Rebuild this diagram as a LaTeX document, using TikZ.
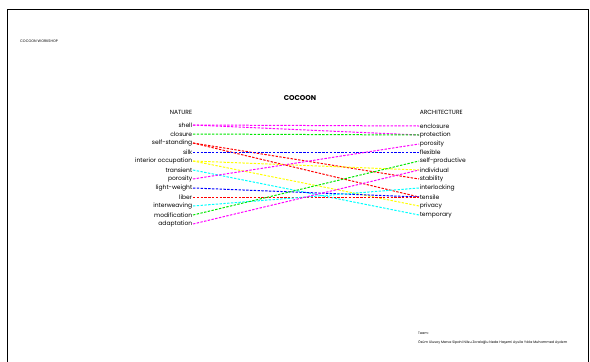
\documentclass[tikz,border=0pt]{standalone}
\usepackage{fontspec}
\setmainfont{Poppins}
\usepackage{tikz}
\usetikzlibrary{calc}

\tikzset{
  word/.style={inner sep=0.6pt, font=\fontsize{6}{6}\selectfont},
  lword/.style={word, anchor=east},
  rword/.style={word, anchor=west},
  link/.style={line width=1pt, dash pattern=on 2.4pt off 1.4pt}
}
\definecolor{lnmag}{RGB}{255,0,255}
\definecolor{lngreen}{RGB}{0,230,0}
\definecolor{lnred}{RGB}{255,0,0}
\definecolor{lnblue}{RGB}{0,0,255}
\definecolor{lnyellow}{RGB}{255,255,0}
\definecolor{lncyan}{RGB}{0,255,255}

\begin{document}
\begin{tikzpicture}[x=1pt,y=-1pt]
            \useasboundingbox (0,0) rectangle (590,362);
            \draw[line width=0.8pt] (7,362) -- (7,9) -- (588,9) -- (588,362);

            \node[anchor=west, inner sep=0pt, font=\fontsize{3.6}{4}\selectfont] (workshop) at (20,41) {COCOON WORKSHOP};
            \node[inner sep=0pt, font=\fontsize{7}{7}\selectfont\bfseries] (title) at (300,98) {COCOON};

            \node[lword] (nature) at (193,112) {NATURE};
            \node[rword] (architecture) at (419,112) {ARCHITECTURE};

            \node[lword] (shell) at (193,125) {shell};
            \node[lword] (closure) at (193,134) {closure};
            \node[lword] (selfstanding) at (193,143) {self-standing};
            \node[lword] (silk) at (193,152) {silk};
            \node[lword] (interior) at (193,161) {interior occupation};
            \node[lword] (transient) at (193,170) {transient};
            \node[lword] (lporosity) at (193,179) {porosity};
            \node[lword] (lightweight) at (193,188) {light-weight};
            \node[lword] (liber) at (193,197) {liber};
            \node[lword] (interweaving) at (193,206) {interweaving};
            \node[lword] (modification) at (193,215) {modification};
            \node[lword] (adaptation) at (193,224) {adaptation};

            \node[rword] (enclosure) at (419,126) {enclosure};
            \node[rword] (protection) at (419,135) {protection};
            \node[rword] (rporosity) at (419,144) {porosity};
            \node[rword] (flexible) at (419,152) {flexible};
            \node[rword] (selfproductive) at (419,161) {self-productive};
            \node[rword] (individual) at (419,170) {individual};
            \node[rword] (stability) at (419,179) {stability};
            \node[rword] (interlocking) at (419,188) {interlocking};
            \node[rword] (tensile) at (419,197) {tensile};
            \node[rword] (privacy) at (419,206) {privacy};
            \node[rword] (temporary) at (419,215) {temporary};

            \draw[link,lnmag] (shell.east) -- (enclosure.west);
            \draw[link,lnmag] (shell.east) -- (protection.west);
            \draw[link,lngreen] (closure.east) -- (protection.west);
            \draw[link,lnred] (selfstanding.east) -- (stability.west);
            \draw[link,lnred] (selfstanding.east) -- (tensile.west);
            \draw[link,lnblue] (silk.east) -- (flexible.west);
            \draw[link,lnyellow] (interior.east) -- (individual.west);
            \draw[link,lnyellow] (interior.east) -- (privacy.west);
            \draw[link,lncyan] (transient.east) -- (temporary.west);
            \draw[link,lnmag] (lporosity.east) -- (rporosity.west);
            \draw[link,lnblue] (lightweight.east) -- (tensile.west);
            \draw[link,lnred] (liber.east) -- (tensile.west);
            \draw[link,lncyan] (interweaving.east) -- (interlocking.west);
            \draw[link,lngreen] (modification.east) -- (selfproductive.west);
            \draw[link,lnmag] (adaptation.east) -- (individual.west);

            \node[anchor=west, inner sep=0pt, font=\fontsize{3.4}{4}\selectfont] (team) at (418,333) {Team:};
            \node[anchor=west, inner sep=0pt, font=\fontsize{3.4}{4}\selectfont] (members) at (418,342) {Özüm Ulusoy Merve Sipahi Nilsu Zoraloğlu Neda Haşemi Aysila Yıldız Muhammed Aydem};
        \end{tikzpicture}
\end{document}
